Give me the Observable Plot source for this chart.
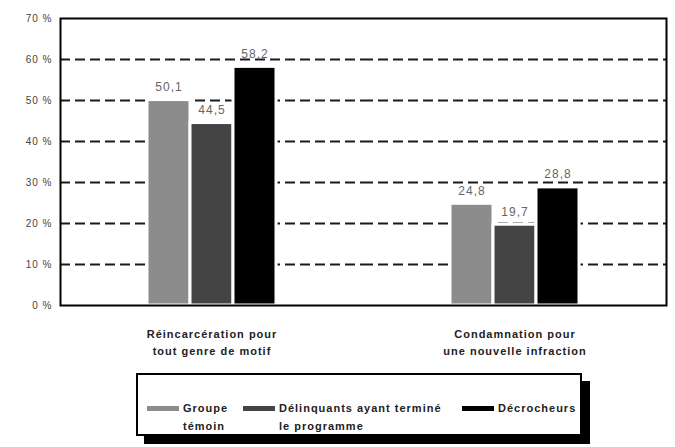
<!DOCTYPE html>
<html>
<head>
<meta charset="utf-8">
<script src="https://cdn.jsdelivr.net/npm/d3@7"></script>
<script src="https://cdn.jsdelivr.net/npm/@observablehq/plot@0.6"></script>
<style>
  html, body { margin: 0; padding: 0; background: #fff; overflow: hidden; }
  #chart { width: 675px; height: 447px; position: relative; }
  #chart svg { display: block; }
  .legend {
    position: absolute; left: 136px; top: 373px; width: 446px; height: 63px;
    border: 2px solid #000; box-shadow: 8px 8px 0 #000; background: #fff;
    font-family: "Liberation Sans", Arial, sans-serif; font-size: 11px; font-weight: bold;
    letter-spacing: 1px; color: #222; box-sizing: border-box;
  }
  .item { position: absolute; top: 24px; display: flex; align-items: flex-start; line-height: 18px; }
  .sw { width: 32px; height: 5px; margin-top: 7px; margin-right: 4px; flex: none; }
</style>
</head>
<body>
<div id="chart"></div>
<script>
const categories = ["Réincarcération pour\ntout genre de motif", "Condamnation pour\nune nouvelle infraction"];
const series = ["Groupe témoin", "Délinquants ayant terminé le programme", "Décrocheurs"];
const seriesLegend = ["Groupe<br>témoin", "Délinquants ayant terminé<br>le programme", "Décrocheurs"];
const reincarceration = [50.1, 44.5, 58.2];
const condamnation = [24.8, 19.7, 28.8];
const colors = ["#8c8c8c", "#444444", "#000000"];
const yTicks = [0, 10, 20, 30, 40, 50, 60, 70];
const gridTicks = [10, 20, 30, 40, 50, 60];

const data = [];
series.forEach((s, i) => data.push({cat: categories[0], series: s, value: reincarceration[i]}));
series.forEach((s, i) => data.push({cat: categories[1], series: s, value: condamnation[i]}));

const fmt = v => v.toFixed(1).replace(".", ",");

const plot = Plot.plot({
  width: 675,
  height: 370,
  marginLeft: 60,
  marginRight: 9,
  marginTop: 18,
  marginBottom: 65,
  style: {fontFamily: "Liberation Sans, Arial, sans-serif", letterSpacing: "1px", background: "#fff"},
  fx: {domain: categories, paddingInner: 0, paddingOuter: 0, label: null},
  x: {domain: series, paddingInner: 0, paddingOuter: 2.02, axis: null},
  y: {domain: [0, 70], ticks: yTicks, label: null},
  color: {domain: series, range: colors},
  marks: [
    Plot.ruleY(gridTicks, {stroke: "#1a1a1a", strokeWidth: 2, strokeDasharray: "10,5"}),
    Plot.barY(data, {fx: "cat", x: "series", y: "value", fill: "series", stroke: "#fff", strokeWidth: 3}),
    Plot.text(data, {fx: "cat", x: "series", y: "value", text: d => fmt(d.value), lineAnchor: "bottom", dy: -9, fontSize: 12, fill: "#666"}),
    Plot.frame({facet: "super", stroke: "#000", strokeWidth: 2}),
    Plot.axisY({ticks: yTicks, tickSize: 0, tickPadding: 8, tickFormat: d => d + " %", fontSize: 10, fill: "#444", label: null}),
    Plot.axisFx({anchor: "bottom", tickSize: 0, tickPadding: 20, fontSize: 11, fontWeight: "bold", fill: "#222", lineHeight: 1.55, label: null})
  ]
});
document.getElementById("chart").appendChild(plot);

const legend = document.createElement("div");
legend.className = "legend";
const lefts = [9, 105, 324];
series.forEach((s, i) => {
  const it = document.createElement("div");
  it.className = "item";
  it.style.left = lefts[i] + "px";
  it.innerHTML = `<span class="sw" style="background:${colors[i]}"></span><span>${seriesLegend[i]}</span>`;
  legend.appendChild(it);
});
document.getElementById("chart").appendChild(legend);
</script>
</body>
</html>
